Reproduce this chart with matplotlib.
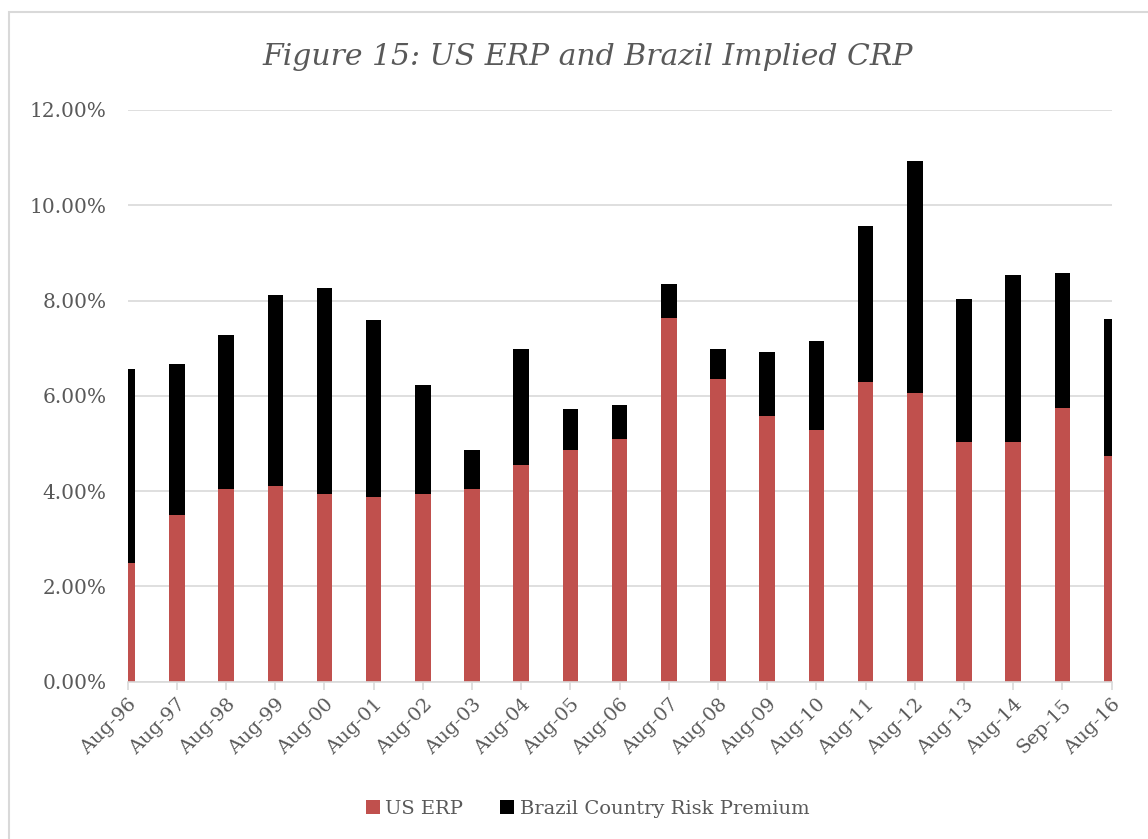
import matplotlib.pyplot as plt
from matplotlib.patches import Rectangle
from matplotlib.ticker import FuncFormatter

dates = ['Aug-96', 'Aug-97', 'Aug-98', 'Aug-99', 'Aug-00', 'Aug-01', 'Aug-02',
         'Aug-03', 'Aug-04', 'Aug-05', 'Aug-06', 'Aug-07', 'Aug-08', 'Aug-09',
         'Aug-10', 'Aug-11', 'Aug-12', 'Aug-13', 'Aug-14', 'Sep-15', 'Aug-16']
us_erp = [2.48, 3.50, 4.04, 4.11, 3.94, 3.88, 3.94, 4.04, 4.55, 4.86, 5.09,
          7.64, 6.36, 5.58, 5.28, 6.29, 6.06, 5.03, 5.03, 5.75, 4.74]
total = [6.56, 6.66, 7.27, 8.12, 8.26, 7.59, 6.22, 4.86, 6.98, 5.72, 5.80,
         8.34, 6.99, 6.92, 7.15, 9.56, 10.93, 8.03, 8.53, 8.57, 7.61]
brazil_crp = [t - u for t, u in zip(total, us_erp)]

text_color = '#595959'
grid_color = '#d9d9d9'
font = 'DejaVu Serif'

fig = plt.figure(figsize=(11.48, 8.39), dpi=100)
ax = fig.add_axes([0.1112, 0.1877, 0.8571, 0.6812])

# chart border (only left/top visible in the crop)
fig.patches.append(Rectangle((9 / 1148, -0.05), 1.2, 0.05 + 1 - 12 / 839,
                             transform=fig.transFigure, fill=False,
                             edgecolor=grid_color, linewidth=1.5))

x = list(range(len(dates)))
ax.bar(x, us_erp, width=0.315, color='#C0504D', label='US ERP', zorder=3)
ax.bar(x, brazil_crp, width=0.315, bottom=us_erp, color='black',
       label='Brazil Country Risk Premium', zorder=3)

ax.set_xlim(0, len(dates) - 1)
ax.set_ylim(0, 12)
ax.set_yticks([0, 2, 4, 6, 8, 10, 12])
ax.yaxis.set_major_formatter(FuncFormatter(lambda v, p: f'{v:.2f}%'))
ax.grid(axis='y', color=grid_color, linewidth=1.2, zorder=0)
ax.set_axisbelow(True)

for s in ['left', 'right', 'top']:
    ax.spines[s].set_visible(False)
ax.spines['bottom'].set_color(grid_color)
ax.spines['bottom'].set_linewidth(1.2)
ax.spines['bottom'].set_zorder(4)

ax.set_xticks(x)
ax.set_xticklabels(dates, rotation=45, ha='right', va='top',
                   rotation_mode='anchor', fontsize=14, family=font,
                   color=text_color)
ax.tick_params(axis='x', length=6, color=grid_color, width=1.2, pad=4)
ax.tick_params(axis='y', length=0, pad=15, labelsize=14.5, labelcolor=text_color)
for lbl in ax.get_yticklabels():
    lbl.set_family(font)

fig.text(0.512, 0.932, 'Figure 15: US ERP and Brazil Implied CRP',
         ha='center', va='center', fontsize=21.5, style='italic',
         family=font, color=text_color)

leg = fig.legend(loc='center', bbox_to_anchor=(0.512, 0.036), ncol=2,
                 frameon=False, prop={'family': font, 'size': 14},
                 handlelength=0.7, handleheight=0.7, handletextpad=0.3,
                 columnspacing=1.9)
for t in leg.get_texts():
    t.set_color(text_color)

fig.savefig('out.png', dpi=100)
